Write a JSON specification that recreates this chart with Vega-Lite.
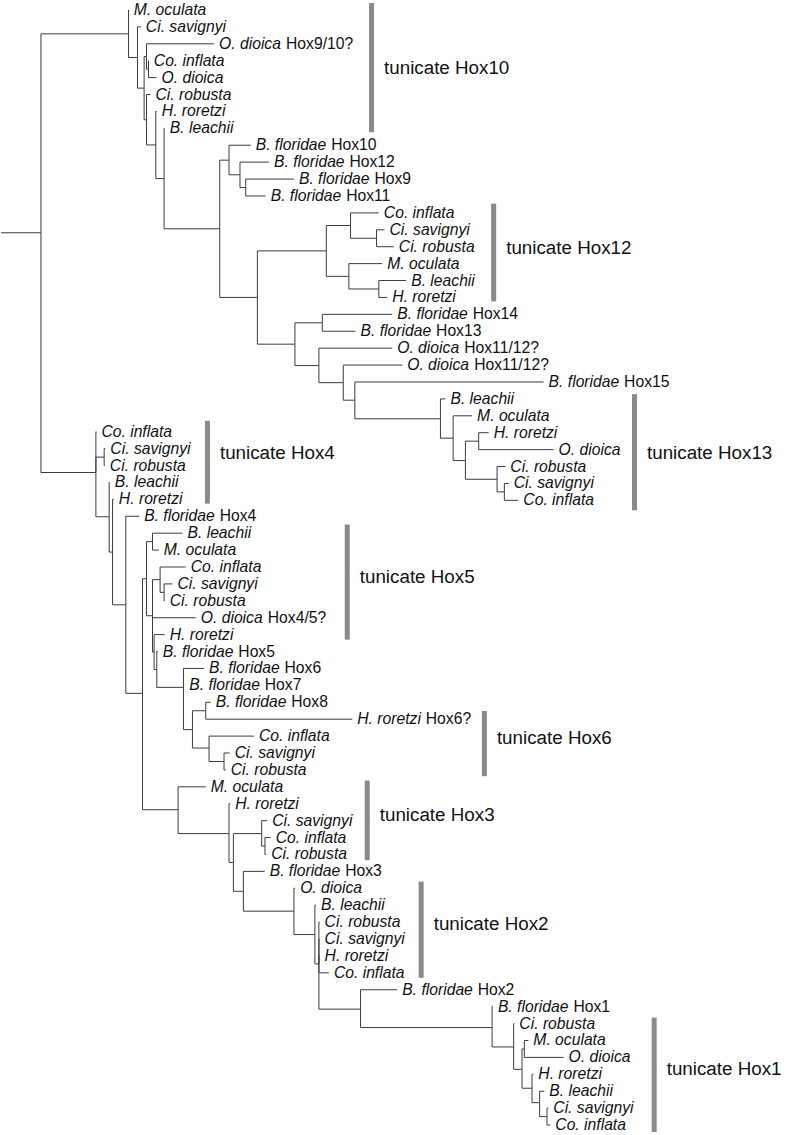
{
  "$schema": "https://vega.github.io/schema/vega-lite/v6.json",
  "width": 791,
  "height": 1135,
  "padding": 0,
  "autosize": {"type": "fit", "contains": "padding"},
  "background": "white",
  "config": {"view": {"stroke": null}, "text": {"font": "Liberation Sans"}},
  "datasets": {
    "tree": [
      {"id": "origin", "parent": null, "x": 0, "y": 231},
      {"id": "root", "parent": "origin", "x": 40, "y": 231},
      {"id": "N1", "parent": "root", "x": 127.7, "y": 31},
      {"id": "k0", "parent": "N1", "x": 128, "y": 7, "name": "M. oculata"},
      {"id": "N2", "parent": "N1", "x": 136.7, "y": 54.8},
      {"id": "k1", "parent": "N2", "x": 140, "y": 24, "name": "Ci. savignyi"},
      {"id": "N3", "parent": "N2", "x": 143.3, "y": 85.6},
      {"id": "N4", "parent": "N3", "x": 145.7, "y": 53.8},
      {"id": "k2", "parent": "N4", "x": 213.3, "y": 41, "name": "O. dioica", "suffix": "Hox9/10?"},
      {"id": "N6", "parent": "N4", "x": 147.7, "y": 66.5},
      {"id": "k3", "parent": "N6", "x": 148, "y": 58, "name": "Co. inflata"},
      {"id": "k4", "parent": "N6", "x": 155.7, "y": 75, "name": "O. dioica"},
      {"id": "N5", "parent": "N3", "x": 145.7, "y": 117.4},
      {"id": "k5", "parent": "N5", "x": 149.7, "y": 92, "name": "Ci. robusta"},
      {"id": "N7", "parent": "N5", "x": 155, "y": 142.7},
      {"id": "k6", "parent": "N7", "x": 156, "y": 109, "name": "H. roretzi"},
      {"id": "N8", "parent": "N7", "x": 163.3, "y": 176.5},
      {"id": "k7", "parent": "N8", "x": 164, "y": 126, "name": "B. leachii"},
      {"id": "N9", "parent": "N8", "x": 219, "y": 227},
      {"id": "N10", "parent": "N9", "x": 228.3, "y": 158},
      {"id": "k8", "parent": "N10", "x": 250, "y": 143, "name": "B. floridae", "suffix": "Hox10"},
      {"id": "N12", "parent": "N10", "x": 239.3, "y": 172.7},
      {"id": "k9", "parent": "N12", "x": 268.3, "y": 160, "name": "B. floridae", "suffix": "Hox12"},
      {"id": "N13", "parent": "N12", "x": 245, "y": 185.5},
      {"id": "k10", "parent": "N13", "x": 293.3, "y": 177, "name": "B. floridae", "suffix": "Hox9"},
      {"id": "k11", "parent": "N13", "x": 265, "y": 194, "name": "B. floridae", "suffix": "Hox11"},
      {"id": "N11", "parent": "N9", "x": 256.7, "y": 296},
      {"id": "N14", "parent": "N11", "x": 325.7, "y": 249.2},
      {"id": "N16", "parent": "N14", "x": 350, "y": 223.7},
      {"id": "k12", "parent": "N16", "x": 378.3, "y": 211, "name": "Co. inflata"},
      {"id": "N18", "parent": "N16", "x": 376, "y": 236.5},
      {"id": "k13", "parent": "N18", "x": 384, "y": 228, "name": "Ci. savignyi"},
      {"id": "k14", "parent": "N18", "x": 393.3, "y": 245, "name": "Ci. robusta"},
      {"id": "N17", "parent": "N14", "x": 348.3, "y": 274.8},
      {"id": "k15", "parent": "N17", "x": 381.7, "y": 262, "name": "M. oculata"},
      {"id": "N19", "parent": "N17", "x": 378.3, "y": 287.5},
      {"id": "k16", "parent": "N19", "x": 405.7, "y": 279, "name": "B. leachii"},
      {"id": "k17", "parent": "N19", "x": 386.7, "y": 296, "name": "H. roretzi"},
      {"id": "N15", "parent": "N11", "x": 294.3, "y": 343},
      {"id": "N20", "parent": "N15", "x": 321.7, "y": 321.5},
      {"id": "k18", "parent": "N20", "x": 391.7, "y": 313, "name": "B. floridae", "suffix": "Hox14"},
      {"id": "k19", "parent": "N20", "x": 355, "y": 330, "name": "B. floridae", "suffix": "Hox13"},
      {"id": "N21", "parent": "N15", "x": 318.3, "y": 364.5},
      {"id": "k20", "parent": "N21", "x": 391.7, "y": 347, "name": "O. dioica", "suffix": "Hox11/12?"},
      {"id": "N22", "parent": "N21", "x": 342.7, "y": 381.7},
      {"id": "k21", "parent": "N22", "x": 401.7, "y": 364, "name": "O. dioica", "suffix": "Hox11/12?"},
      {"id": "N23", "parent": "N22", "x": 354.3, "y": 399.3},
      {"id": "k22", "parent": "N23", "x": 543.3, "y": 381, "name": "B. floridae", "suffix": "Hox15"},
      {"id": "N24", "parent": "N23", "x": 440, "y": 418},
      {"id": "k23", "parent": "N24", "x": 445, "y": 398, "name": "B. leachii"},
      {"id": "N25", "parent": "N24", "x": 452.7, "y": 437.5},
      {"id": "k24", "parent": "N25", "x": 471.7, "y": 415, "name": "M. oculata"},
      {"id": "N26", "parent": "N25", "x": 465, "y": 460},
      {"id": "N27", "parent": "N26", "x": 478.3, "y": 440.5},
      {"id": "k25", "parent": "N27", "x": 488.3, "y": 432, "name": "H. roretzi"},
      {"id": "k26", "parent": "N27", "x": 553.3, "y": 449, "name": "O. dioica"},
      {"id": "N28", "parent": "N26", "x": 496.7, "y": 478.8},
      {"id": "k27", "parent": "N28", "x": 505, "y": 466, "name": "Ci. robusta"},
      {"id": "N29", "parent": "N28", "x": 504, "y": 491.5},
      {"id": "k28", "parent": "N29", "x": 508.3, "y": 483, "name": "Ci. savignyi"},
      {"id": "k29", "parent": "N29", "x": 518, "y": 500, "name": "Co. inflata"},

      {"id": "B0", "parent": "root", "x": 95, "y": 472},
      {"id": "j0", "parent": "B0", "x": 95.5, "y": 431, "name": "Co. inflata"},
      {"id": "B1", "parent": "B0", "x": 103.3, "y": 456.5},
      {"id": "j1", "parent": "B1", "x": 104.5, "y": 448, "name": "Ci. savignyi"},
      {"id": "j2", "parent": "B1", "x": 104, "y": 465, "name": "Ci. robusta"},
      {"id": "B2", "parent": "B0", "x": 108.3, "y": 516.5},
      {"id": "j3", "parent": "B2", "x": 109, "y": 482, "name": "B. leachii"},
      {"id": "B3", "parent": "B2", "x": 111.7, "y": 552},
      {"id": "j4", "parent": "B3", "x": 113, "y": 499, "name": "H. roretzi"},
      {"id": "B4", "parent": "B3", "x": 125, "y": 605},
      {"id": "j5", "parent": "B4", "x": 138.3, "y": 516, "name": "B. floridae", "suffix": "Hox4"},
      {"id": "B5", "parent": "B4", "x": 141.7, "y": 694},
      {"id": "B6", "parent": "B5", "x": 145.7, "y": 578.8},
      {"id": "Bp", "parent": "B6", "x": 151.7, "y": 541.5},
      {"id": "j6", "parent": "Bp", "x": 181.7, "y": 533, "name": "B. leachii"},
      {"id": "j7", "parent": "Bp", "x": 158, "y": 550, "name": "M. oculata"},
      {"id": "Bq", "parent": "B6", "x": 151.7, "y": 616},
      {"id": "Bcc", "parent": "Bq", "x": 159.3, "y": 579.7},
      {"id": "j8", "parent": "Bcc", "x": 185, "y": 567, "name": "Co. inflata"},
      {"id": "Bcs", "parent": "Bcc", "x": 163.3, "y": 592.5},
      {"id": "j9", "parent": "Bcs", "x": 171.7, "y": 584, "name": "Ci. savignyi"},
      {"id": "j10", "parent": "Bcs", "x": 164, "y": 601, "name": "Ci. robusta"},
      {"id": "j11", "parent": "Bq", "x": 195, "y": 618, "name": "O. dioica", "suffix": "Hox4/5?"},
      {"id": "B8", "parent": "Bq", "x": 153.3, "y": 652.5},
      {"id": "j12", "parent": "B8", "x": 164, "y": 635, "name": "H. roretzi"},
      {"id": "B9", "parent": "B8", "x": 156, "y": 670},
      {"id": "j13", "parent": "B9", "x": 157, "y": 652, "name": "B. floridae", "suffix": "Hox5"},
      {"id": "B10", "parent": "B9", "x": 182.7, "y": 688},
      {"id": "j14", "parent": "B10", "x": 203.3, "y": 669, "name": "B. floridae", "suffix": "Hox6"},
      {"id": "j15", "parent": "B10", "x": 183.5, "y": 686, "name": "B. floridae", "suffix": "Hox7"},
      {"id": "B11", "parent": "B10", "x": 191.7, "y": 730.5},
      {"id": "B12", "parent": "B11", "x": 205, "y": 711.5},
      {"id": "j16", "parent": "B12", "x": 210, "y": 703, "name": "B. floridae", "suffix": "Hox8"},
      {"id": "j17", "parent": "B12", "x": 351.7, "y": 720, "name": "H. roretzi", "suffix": "Hox6?"},
      {"id": "B13", "parent": "B11", "x": 208.3, "y": 749},
      {"id": "j18", "parent": "B13", "x": 253.3, "y": 737, "name": "Co. inflata"},
      {"id": "B14", "parent": "B13", "x": 223.3, "y": 762.5},
      {"id": "j19", "parent": "B14", "x": 229, "y": 754, "name": "Ci. savignyi"},
      {"id": "j20", "parent": "B14", "x": 225, "y": 771, "name": "Ci. robusta"},
      {"id": "B7", "parent": "B5", "x": 177.3, "y": 811},
      {"id": "j21", "parent": "B7", "x": 205, "y": 788, "name": "M. oculata"},
      {"id": "B15", "parent": "B7", "x": 228.3, "y": 835},
      {"id": "j22", "parent": "B15", "x": 229.5, "y": 805, "name": "H. roretzi"},
      {"id": "B16", "parent": "B15", "x": 232.7, "y": 864},
      {"id": "B17", "parent": "B16", "x": 261, "y": 835},
      {"id": "j23", "parent": "B17", "x": 266.5, "y": 822, "name": "Ci. savignyi"},
      {"id": "B18", "parent": "B17", "x": 264.3, "y": 847.5},
      {"id": "j24", "parent": "B18", "x": 270, "y": 839, "name": "Co. inflata"},
      {"id": "j25", "parent": "B18", "x": 265.5, "y": 856, "name": "Ci. robusta"},
      {"id": "B19", "parent": "B16", "x": 242.7, "y": 893},
      {"id": "j26", "parent": "B19", "x": 264, "y": 873, "name": "B. floridae", "suffix": "Hox3"},
      {"id": "B20", "parent": "B19", "x": 293.3, "y": 913},
      {"id": "j27", "parent": "B20", "x": 294.5, "y": 890, "name": "O. dioica"},
      {"id": "B21", "parent": "B20", "x": 314.3, "y": 936.5},
      {"id": "j28", "parent": "B21", "x": 315.5, "y": 907, "name": "B. leachii"},
      {"id": "B22", "parent": "B21", "x": 318.3, "y": 966},
      {"id": "j29", "parent": "B22", "x": 319, "y": 924, "name": "Ci. robusta"},
      {"id": "j30", "parent": "B22", "x": 319, "y": 941, "name": "Ci. savignyi"},
      {"id": "j31", "parent": "B22", "x": 319, "y": 958, "name": "H. roretzi"},
      {"id": "j32", "parent": "B22", "x": 328.3, "y": 975, "name": "Co. inflata"},
      {"id": "B23", "parent": "B22", "x": 360, "y": 1011.5},
      {"id": "j33", "parent": "B23", "x": 396.7, "y": 992, "name": "B. floridae", "suffix": "Hox2"},
      {"id": "B24", "parent": "B23", "x": 491.7, "y": 1030},
      {"id": "j34", "parent": "B24", "x": 492.5, "y": 1009, "name": "B. floridae", "suffix": "Hox1"},
      {"id": "B25", "parent": "B24", "x": 513.3, "y": 1049.5},
      {"id": "j35", "parent": "B25", "x": 514, "y": 1026, "name": "Ci. robusta"},
      {"id": "B26", "parent": "B25", "x": 521.7, "y": 1072},
      {"id": "B27", "parent": "B26", "x": 524, "y": 1051.5},
      {"id": "j36", "parent": "B27", "x": 528, "y": 1043, "name": "M. oculata"},
      {"id": "j37", "parent": "B27", "x": 563.3, "y": 1060, "name": "O. dioica"},
      {"id": "B28", "parent": "B26", "x": 531.7, "y": 1091},
      {"id": "j38", "parent": "B28", "x": 533, "y": 1077, "name": "H. roretzi"},
      {"id": "B29", "parent": "B28", "x": 539.3, "y": 1105.5},
      {"id": "j39", "parent": "B29", "x": 544, "y": 1094, "name": "B. leachii"},
      {"id": "B30", "parent": "B29", "x": 546.7, "y": 1119.5},
      {"id": "j40", "parent": "B30", "x": 548, "y": 1111, "name": "Ci. savignyi"},
      {"id": "j41", "parent": "B30", "x": 550, "y": 1128, "name": "Co. inflata"}
    ],
    "clades": [
      {"clade": "tunicate Hox10", "x": 371, "y0": 0, "y1": 130, "ly": 65},
      {"clade": "tunicate Hox12", "x": 493.3, "y0": 201.7, "y1": 300, "ly": 246},
      {"clade": "tunicate Hox13", "x": 634.3, "y0": 393.3, "y1": 510, "ly": 452},
      {"clade": "tunicate Hox4", "x": 206.7, "y0": 420, "y1": 503.3, "ly": 452},
      {"clade": "tunicate Hox5", "x": 346.7, "y0": 524.3, "y1": 640, "ly": 577},
      {"clade": "tunicate Hox6", "x": 484, "y0": 711.7, "y1": 777.3, "ly": 739},
      {"clade": "tunicate Hox3", "x": 366.7, "y0": 781.7, "y1": 861.7, "ly": 816},
      {"clade": "tunicate Hox2", "x": 420.7, "y0": 883.3, "y1": 980, "ly": 926},
      {"clade": "tunicate Hox1", "x": 654, "y0": 1020, "y1": 1135, "ly": 1072}
    ]
  },
  "layer": [
    {
      "data": {"name": "tree"},
      "transform": [
        {"filter": "datum.parent != null"},
        {"lookup": "parent", "from": {"data": {"name": "tree"}, "key": "id", "fields": ["x", "y"]}, "as": ["px", "py"]}
      ],
      "mark": {"type": "rule", "color": "#3c3c3c", "strokeWidth": 1},
      "encoding": {
        "x": {"field": "px", "type": "quantitative", "scale": {"domain": [0, 791], "nice": false, "zero": false}, "axis": null},
        "x2": {"field": "x"},
        "y": {"field": "y", "type": "quantitative", "scale": {"domain": [0, 1135], "reverse": true, "nice": false, "zero": false}, "axis": null}
      }
    },
    {
      "data": {"name": "tree"},
      "transform": [
        {"filter": "datum.parent != null"},
        {"lookup": "parent", "from": {"data": {"name": "tree"}, "key": "id", "fields": ["x", "y"]}, "as": ["px", "py"]}
      ],
      "mark": {"type": "rule", "color": "#3c3c3c", "strokeWidth": 1},
      "encoding": {
        "x": {"field": "px", "type": "quantitative", "scale": {"domain": [0, 791], "nice": false, "zero": false}, "axis": null},
        "y": {"field": "py", "type": "quantitative", "scale": {"domain": [0, 1135], "reverse": true, "nice": false, "zero": false}, "axis": null},
        "y2": {"field": "y"}
      }
    },
    {
      "data": {"name": "tree"},
      "transform": [{"filter": "datum.name != null"}],
      "mark": {"type": "text", "align": "left", "baseline": "middle", "fontStyle": "italic", "fontSize": 15.7, "dx": 5, "color": "#111"},
      "encoding": {
        "x": {"field": "x", "type": "quantitative", "scale": {"domain": [0, 791], "nice": false, "zero": false}, "axis": null},
        "y": {"field": "y", "type": "quantitative", "scale": {"domain": [0, 1135], "reverse": true, "nice": false, "zero": false}, "axis": null},
        "text": {"field": "name"}
      }
    },
    {
      "data": {"name": "tree"},
      "transform": [{"filter": "datum.suffix != null && datum.name == 'B. floridae'"}],
      "mark": {"type": "text", "align": "left", "baseline": "middle", "fontSize": 15.7, "dx": 80.5, "color": "#111"},
      "encoding": {
        "x": {"field": "x", "type": "quantitative", "scale": {"domain": [0, 791], "nice": false, "zero": false}, "axis": null},
        "y": {"field": "y", "type": "quantitative", "scale": {"domain": [0, 1135], "reverse": true, "nice": false, "zero": false}, "axis": null},
        "text": {"field": "suffix"}
      }
    },
    {
      "data": {"name": "tree"},
      "transform": [{"filter": "datum.suffix != null && datum.name == 'O. dioica'"}],
      "mark": {"type": "text", "align": "left", "baseline": "middle", "fontSize": 15.7, "dx": 72, "color": "#111"},
      "encoding": {
        "x": {"field": "x", "type": "quantitative", "scale": {"domain": [0, 791], "nice": false, "zero": false}, "axis": null},
        "y": {"field": "y", "type": "quantitative", "scale": {"domain": [0, 1135], "reverse": true, "nice": false, "zero": false}, "axis": null},
        "text": {"field": "suffix"}
      }
    },
    {
      "data": {"name": "tree"},
      "transform": [{"filter": "datum.suffix != null && datum.name == 'H. roretzi'"}],
      "mark": {"type": "text", "align": "left", "baseline": "middle", "fontSize": 15.7, "dx": 73.5, "color": "#111"},
      "encoding": {
        "x": {"field": "x", "type": "quantitative", "scale": {"domain": [0, 791], "nice": false, "zero": false}, "axis": null},
        "y": {"field": "y", "type": "quantitative", "scale": {"domain": [0, 1135], "reverse": true, "nice": false, "zero": false}, "axis": null},
        "text": {"field": "suffix"}
      }
    },
    {
      "data": {"name": "clades"},
      "mark": {"type": "rule", "color": "#8a8a8a", "strokeWidth": 5},
      "encoding": {
        "x": {"field": "x", "type": "quantitative", "scale": {"domain": [0, 791], "nice": false, "zero": false}, "axis": null},
        "y": {"field": "y0", "type": "quantitative", "scale": {"domain": [0, 1135], "reverse": true, "nice": false, "zero": false}, "axis": null},
        "y2": {"field": "y1"}
      }
    },
    {
      "data": {"name": "clades"},
      "mark": {"type": "text", "align": "left", "baseline": "middle", "fontSize": 18.8, "dx": 12.5, "color": "#111"},
      "encoding": {
        "x": {"field": "x", "type": "quantitative", "scale": {"domain": [0, 791], "nice": false, "zero": false}, "axis": null},
        "y": {"field": "ly", "type": "quantitative", "scale": {"domain": [0, 1135], "reverse": true, "nice": false, "zero": false}, "axis": null},
        "text": {"field": "clade"}
      }
    }
  ]
}
